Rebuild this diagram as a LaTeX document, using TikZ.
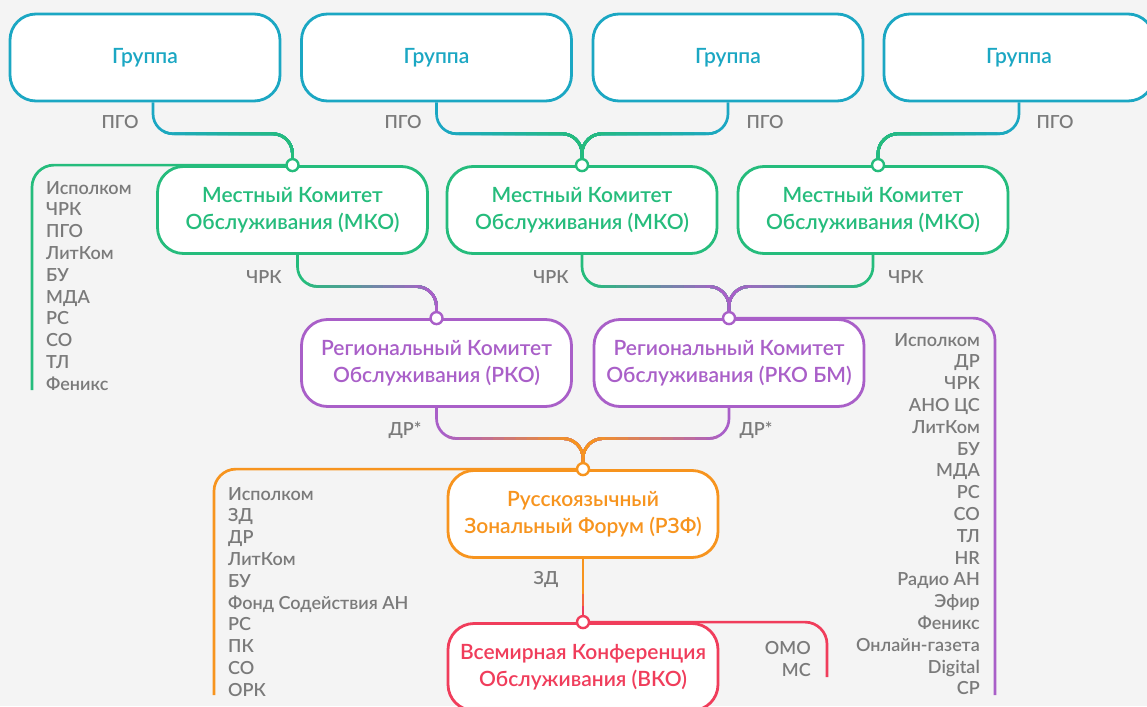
\documentclass[tikz,border=0pt]{standalone}
\usepackage{fontspec}
\setmainfont{Lato}
\IfFontExistsTF{Lato Semibold}{\newfontfamily\semib{Lato Semibold}}{\newfontfamily\semib{Lato}[FakeBold=1.2]}
\usetikzlibrary{calc}
\definecolor{bgc}{HTML}{F4F4F4}
\definecolor{cteal}{HTML}{1BA7C3}
\definecolor{cgreen}{HTML}{25BC7C}
\definecolor{cpurple}{HTML}{A95FC8}
\definecolor{corange}{HTML}{F7941E}
\definecolor{cred}{HTML}{F03D5B}
\definecolor{cgray}{HTML}{7A7A7A}
\pgfdeclarelayer{back}\pgfdeclarelayer{bg}\pgfsetlayers{back,bg,main}
\tikzset{
 box/.style={draw=#1, text=#1, fill=white, line width=2.8pt, rounded corners=26pt,
   minimum width=270pt, minimum height=87pt, align=center, inner sep=0pt,
   font=\semib\fontsize{21}{27}\selectfont},
 dot/.style={circle, draw=#1, fill=white, line width=2.4pt, minimum size=12pt, inner sep=0pt},
 conn/.style={line width=2.7pt, rounded corners=20pt},
 brk/.style={line width=2.7pt, rounded corners=22pt},
 lbl/.style={text=cgray, font=\semib\fontsize{18}{21.8}\selectfont, inner sep=0pt},
}
\newcommand\gconn[4]{%
  \draw[conn,draw=#3] (#1) |- ($(#1)!.5!(#2)$) -| (#2);
  \foreach \i in {1,...,12}{%
    \pgfmathsetmacro\ff{\i/13}%
    \pgfmathtruncatemacro\pc{\i*100/12}%
    \begin{scope}
      \clip let \p1=($(#1)!\ff!(#2)$), \p2=($(#1)!-0.3!(#2)$), \p3=($(#1)!1.3!(#2)$) in (\x1,\y2) rectangle (\x3,\y3);
      \draw[conn,draw=#4!\pc!#3] (#1) |- ($(#1)!.5!(#2)$) -| (#2);
    \end{scope}}%
}
\begin{document}
\begin{tikzpicture}[x=1pt,y=-1pt]
\useasboundingbox (0,0) rectangle (1147,706);
\begin{pgfonlayer}{back}
\fill[bgc] (0,0) rectangle (1147,706);
\end{pgfonlayer}

% boxes
\node[box=cteal] (g1) at (145,57.5) {Группа};
\node[box=cteal] (g2) at (436.5,57.5) {Группа};
\node[box=cteal] (g3) at (728,57.5) {Группа};
\node[box=cteal] (g4) at (1019,57.5) {Группа};
\node[box=cgreen] (m1) at (292.5,210) {Местный Комитет\\Обслуживания (МКО)};
\node[box=cgreen] (m2) at (582,210) {Местный Комитет\\Обслуживания (МКО)};
\node[box=cgreen] (m3) at (873,210) {Местный Комитет\\Обслуживания (МКО)};
\node[box=cpurple] (r1) at (436.5,363) {Региональный Комитет\\Обслуживания (РКО)};
\node[box=cpurple] (r2) at (729,363) {Региональный Комитет\\Обслуживания (РКО БМ)};
\node[box=corange] (z) at (583,514) {Русскоязычный\\Зональный Форум (РЗФ)};
\node[box=cred] (v) at (583,667) {Всемирная Конференция\\Обслуживания (ВКО)};

% dots
\node[dot=cgreen] (dm1) at (m1.north) {};
\node[dot=cgreen] (dm2) at (m2.north) {};
\node[dot=cgreen] (dm3) at ($(m3.north)+(5,0)$) {};
\node[dot=cpurple] (dr1) at (r1.north) {};
\node[dot=cpurple] (dr2) at (r2.north) {};
\node[dot=corange] (dz) at (z.north) {};
\node[dot=cred] (dv) at (v.north) {};

% connector start points and bracket ends
\coordinate (g1s) at ($(g1.south)+(8,0)$);
\coordinate (m1s) at ($(m1.south)+(5,0)$);
\coordinate (ge) at (32,390);
\coordinate (pe) at (995,695);
\coordinate (oe) at (214,695);
\coordinate (re) at (827,677);

\begin{pgfonlayer}{bg}
\gconn{g1s}{dm1}{cteal}{cgreen}
\gconn{g2.south}{dm2}{cteal}{cgreen}
\gconn{g3.south}{dm2}{cteal}{cgreen}
\gconn{g4.south}{dm3}{cteal}{cgreen}
\gconn{m1s}{dr1}{cgreen}{cpurple}
\gconn{m2.south}{dr2}{cgreen}{cpurple}
\gconn{m3.south}{dr2}{cgreen}{cpurple}
\gconn{r1.south}{dz}{cpurple}{corange}
\gconn{r2.south}{dz}{cpurple}{corange}
\draw[conn,draw=corange] (z.south) -- (dv);
\draw[conn,draw=cred!50!corange] ($(z.south)!0.55!(dv)$) -- (dv);
\draw[conn,draw=cred] ($(z.south)!0.75!(dv)$) -- (dv);
\draw[brk,draw=cgreen] (m1.north) -| (ge);
\draw[brk,draw=cpurple] (r2.north) -| (pe);
\draw[brk,draw=corange] (z.north) -| (oe);
\draw[brk,draw=cred] (v.north) -| (re);
\end{pgfonlayer}

% connector labels
\node[lbl] (lp1) at (120,122) {ПГО};
\node[lbl] (lp2) at (403,122) {ПГО};
\node[lbl] (lp3) at (765,122) {ПГО};
\node[lbl] (lp4) at (1055,122) {ПГО};
\node[lbl] (lc1) at (264,277) {ЧРК};
\node[lbl] (lc2) at (551,277) {ЧРК};
\node[lbl] (lc3) at (906,277) {ЧРК};
\node[lbl] (ld1) at (405,430) {ДР*};
\node[lbl] (ld2) at (756,430) {ДР*};
\node[lbl] (lz) at (546,580) {ЗД};

% lists
\foreach \t [count=\i] in {Исполком,ЧРК,ПГО,ЛитКом,БУ,МДА,РС,СО,ТЛ,Феникс}
  \node[lbl,anchor=base west] (la\i) at (46,{194+21.8*(\i-1)}) {\t};
\foreach \t [count=\i] in {Исполком,ДР,ЧРК,АНО ЦС,ЛитКом,БУ,МДА,РС,СО,ТЛ,HR,Радио АН,Эфир,Феникс,Онлайн-газета,Digital,СР}
  \node[lbl,anchor=base east] (lb\i) at (980,{346+21.8*(\i-1)}) {\t};
\foreach \t [count=\i] in {Исполком,ЗД,ДР,ЛитКом,БУ,Фонд Содействия АН,РС,ПК,СО,ОРК}
  \node[lbl,anchor=base west] (lo\i) at (228,{500+21.8*(\i-1)}) {\t};
\node[lbl,anchor=base east] (lr1) at (811,654) {ОМО};
\node[lbl,anchor=base east] (lr2) at (811,676) {МС};
\end{tikzpicture}
\end{document}
